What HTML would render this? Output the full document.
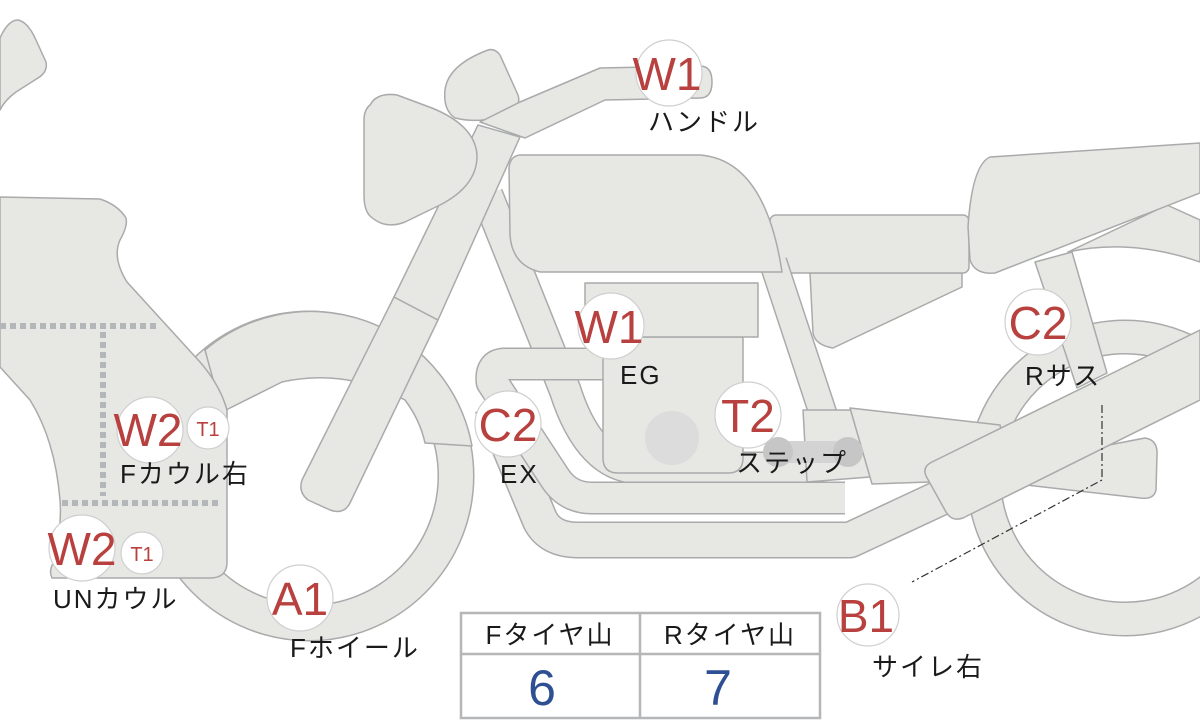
<!DOCTYPE html>
<html><head><meta charset="utf-8"><style>
html,body{margin:0;padding:0;background:#fff;}
svg{display:block;}
.s{fill:#e7e7e4;stroke:#a9abab;stroke-width:1.5;stroke-linejoin:round;}
.o{fill:none;stroke:#a9abab;stroke-linecap:butt;stroke-linejoin:round;}
.f{fill:none;stroke:#e7e7e4;stroke-linecap:butt;stroke-linejoin:round;}
.c{fill:#fff;stroke:#cfcfcf;stroke-width:1.2;}
.r{fill:#b8413f;font-family:"Liberation Sans",sans-serif;font-size:46px;text-anchor:middle;}
.t{fill:#b8413f;font-family:"Liberation Sans",sans-serif;font-size:20px;text-anchor:middle;}
.l{fill:#1a1a1a;font-family:"Liberation Sans","Noto Sans CJK JP",sans-serif;font-size:26px;letter-spacing:2px;}
</style></head><body>
<svg width="1200" height="720" viewBox="0 0 1200 720" xmlns="http://www.w3.org/2000/svg">
<circle cx="1125" cy="478" r="141" class="o" stroke-width="35"/>
<circle cx="1125" cy="478" r="141" class="f" stroke-width="32"/>
<path class="s" d="M1068,252 Q1130,238 1200,262 L1200,220 L1167,205 Z"/>
<path class="s" d="M1035,262 L1072,252 L1107,373 L1077,388 Z"/>
<path class="s" d="M810,273 L962,273 L962,287 L833,348 Q815,345 813,333 Z"/>
<rect class="s" x="770" y="215" width="199" height="58" rx="6"/>
<path class="s" d="M990,157 L1200,143 L1200,193 L995,273 Q975,275 970,260 L968,227 Q972,165 990,157Z"/>
<path class="o" d="M487,195 L565,390 Q590,468 640,468 L812,468" stroke-width="33"/>
<path class="f" d="M487,195 L565,390 Q590,468 640,468 L812,468" stroke-width="30"/>
<path class="o" d="M773,262 L840,465" stroke-width="29"/>
<path class="f" d="M773,262 L840,465" stroke-width="26"/>
<path class="s" d="M520,155 L700,155 Q765,160 782,272 L540,272 Q512,265 510,235 L509,168 Q510,156 520,155 Z"/>
<path class="o" d="M492,405 L540,520 Q550,540 578,540 L850,540 L1000,470" stroke-width="37"/>
<path class="f" d="M492,405 L540,520 Q550,540 578,540 L850,540 L1000,470" stroke-width="34"/>
<path class="o" d="M603,364 L505,364 Q490,364 492,382 L555,478 Q568,498 592,498 L845,498" stroke-width="33" stroke-linecap="round"/>
<path class="f" d="M603,364 L505,364 Q490,364 492,382 L555,478 Q568,498 592,498 L845,498" stroke-width="30" stroke-linecap="round"/>
<path class="s" d="M603,337 L743,337 L743,458 Q743,473 728,473 L618,473 Q603,473 603,458 Z"/>
<rect class="s" x="585" y="283" width="173" height="54"/>
<circle cx="672" cy="438" r="27" fill="#dcdcdc"/>
<path class="s" d="M803,410 L857,410 L870,477 L807,482 Z"/>
<path class="s" d="M850,408 L1000,425 L1010,470 L930,482 L872,484 Z"/>
<path class="s" d="M980,470 L1145,438 Q1158,440 1157,455 L1156,490 Q1154,500 1140,498 L1000,482 Z"/>
<path class="s" d="M932,462 L1200,330 L1200,400 L963,518 Q952,522 946,512 L926,476 Q922,467 932,462 Z"/>
<rect x="778" y="441" width="70" height="22" fill="#d3d3d3"/>
<circle cx="778" cy="452" r="15" fill="#c6c6c6"/>
<circle cx="848" cy="452" r="15" fill="#c6c6c6"/>
<circle cx="309" cy="476" r="147" class="o" stroke-width="37"/>
<circle cx="309" cy="476" r="147" class="f" stroke-width="34"/>
<path class="s" d="M222,412 L282,382 Q345,368 405,400 Q420,420 425,443 L472,446 A164,164 0 0 0 205,350 Z"/>
<path class="s" d="M394,297 L438,320 L350,503 Q344,515 330,510 L308,500 Q298,492 302,480 Z"/>
<path class="s" d="M478,125 L520,137 L438,320 L394,297 Z"/>
<path class="s" d="M370,105 Q377,92 397,95 L432,108 Q476,126 477,156 Q477,186 440,205 L405,222 Q385,230 370,216 Q364,210 364,195 L364,120 Q364,110 370,105Z"/>
<path class="s" d="M488,50 Q495,48 500,55 L518,95 Q522,108 505,115 Q480,124 455,118 Q443,110 445,90 Q448,65 488,50Z"/>
<path class="s" d="M480,122 L520,102 L600,68 L700,66 Q712,66 712,82 Q712,98 700,98 L605,100 L525,138 Z"/>
<path class="s" d="M0,197 L100,199 Q118,205 126,218 Q128,226 120,240 Q112,258 127,282 L200,362 Q220,385 227,410 L227,562 Q227,578 210,578 L52,578 Q48,570 55,560 Q62,520 60,500 Q55,440 30,400 L0,367 Z"/>
<g stroke="#b4b7ba" stroke-width="6" stroke-dasharray="6,4" fill="none">
<path d="M0,326 L160,326"/><path d="M103,332 L103,496"/><path d="M62,503 L222,503"/>
</g>
<path class="s" d="M0,38 Q8,20 18,20 Q28,22 36,40 L46,62 Q48,72 38,78 L16,92 Q5,100 0,110 Z"/>
<path d="M1102,405 L1102,480 L912,582" fill="none" stroke="#333" stroke-width="1.2" stroke-dasharray="8,3,2,3"/>
<circle class="c" cx="669" cy="73" r="33"/><text class="r" x="667" y="90">W1</text>
<circle class="c" cx="611" cy="326" r="33"/><text class="r" x="609" y="343">W1</text>
<circle class="c" cx="508" cy="424" r="33"/><text class="r" x="508" y="441">C2</text>
<circle class="c" cx="748" cy="415" r="33"/><text class="r" x="748" y="432">T2</text>
<circle class="c" cx="1038" cy="322" r="33"/><text class="r" x="1038" y="339">C2</text>
<circle class="c" cx="868" cy="615" r="31"/><text class="r" x="866" y="632">B1</text>
<circle class="c" cx="300" cy="598" r="33"/><text class="r" x="300" y="615">A1</text>
<circle class="c" cx="150" cy="430" r="33"/><text class="r" x="148" y="446">W2</text>
<circle class="c" cx="208" cy="428" r="21"/><text class="t" x="208" y="436">T1</text>
<circle class="c" cx="82" cy="548" r="33"/><text class="r" x="82" y="565">W2</text>
<circle class="c" cx="142" cy="553" r="21"/><text class="t" x="142" y="561">T1</text>
<text class="l" x="648" y="131">ハンドル</text>
<text class="l" x="620" y="384">EG</text>
<text class="l" x="500" y="483">EX</text>
<text class="l" x="736" y="472">ステップ</text>
<text class="l" x="1025" y="385">Rサス</text>
<text class="l" x="872" y="676">サイレ右</text>
<text class="l" x="290" y="657">Fホイール</text>
<text class="l" x="120" y="483">Fカウル右</text>
<text class="l" x="53" y="608">UNカウル</text>
<rect x="461" y="613" width="359" height="105" fill="#fff" stroke="#b4b6b8" stroke-width="2.5"/>
<line x1="461" y1="654" x2="820" y2="654" stroke="#b4b6b8" stroke-width="2.5"/>
<line x1="640" y1="613" x2="640" y2="718" stroke="#b4b6b8" stroke-width="2.5"/>
<text class="l" x="550" y="644" text-anchor="middle">Fタイヤ山</text>
<text class="l" x="730" y="644" text-anchor="middle">Rタイヤ山</text>
<text x="542" y="705" text-anchor="middle" fill="#2f4f93" font-family="Liberation Sans,sans-serif" font-size="50">6</text>
<text x="718" y="705" text-anchor="middle" fill="#2f4f93" font-family="Liberation Sans,sans-serif" font-size="50">7</text>
</svg>
</body></html>
